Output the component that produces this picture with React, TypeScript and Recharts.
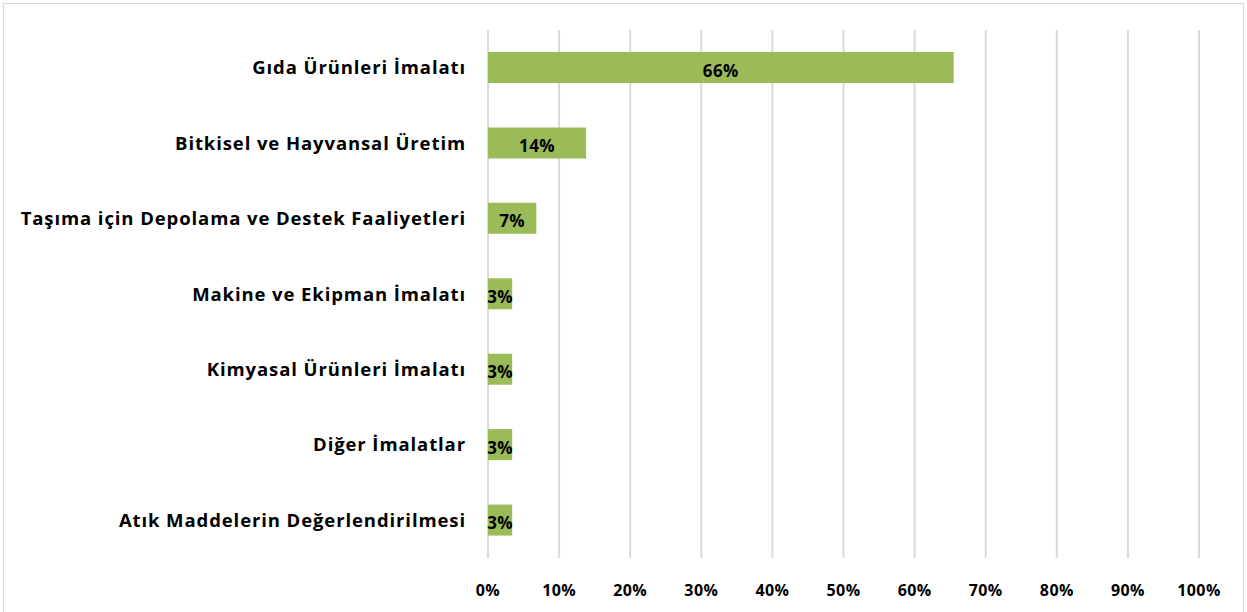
import { BarChart, Bar, XAxis, YAxis, CartesianGrid, LabelList } from "recharts";

const CATEGORIES = [
  "Gıda Ürünleri İmalatı",
  "Bitkisel ve Hayvansal Üretim",
  "Taşıma için Depolama ve Destek Faaliyetleri",
  "Makine ve Ekipman İmalatı",
  "Kimyasal Ürünleri İmalatı",
  "Diğer İmalatlar",
  "Atık Maddelerin Değerlendirilmesi",
];
const SHARES = [65.5, 13.8, 6.8, 3.4, 3.4, 3.4, 3.4];
const X_TICKS = [0, 10, 20, 30, 40, 50, 60, 70, 80, 90, 100];

const FONT = "'Open Sans', Lato, sans-serif";

const data = CATEGORIES.map((name, i) => ({ name, value: SHARES[i] }));

export default function App() {
  return (
    <div style={{ position: "fixed", left: 0, top: 0, width: 1247, height: 612, background: "#fff", overflow: "hidden", fontFamily: FONT }}>
      <div style={{ position: "absolute", left: 3, top: 3, width: 1239, height: 640, border: "1px solid #d9d9d9" }} />
      <div style={{ position: "absolute", left: 0, top: 0 }}>
        <BarChart
          width={1247}
          height={612}
          data={data}
          layout="vertical"
          margin={{ top: 30, right: 48, bottom: 0, left: 0 }}
        >
          <CartesianGrid horizontal={false} stroke="#d9d9d9" strokeWidth={2} />
          <XAxis
            type="number"
            domain={[0, 100]}
            ticks={X_TICKS}
            interval={0}
            axisLine={false}
            tickLine={false}
            tickSize={0}
            tickMargin={27}
            height={54}
            tickFormatter={(v) => `${v}%`}
            tick={{ fill: "#000", fontSize: 16, fontWeight: 700, fontFamily: FONT, letterSpacing: 0.4 }}
          />
          <YAxis
            type="category"
            dataKey="name"
            width={488}
            axisLine={false}
            tickLine={false}
            tickSize={0}
            tickMargin={22}
            interval={0}
            tick={{ fill: "#000", fontSize: 18.5, fontWeight: 700, fontFamily: FONT, letterSpacing: 0.9 }}
          />
          <Bar dataKey="value" fill="#9bbb59" barSize={31} isAnimationActive={false}>
            <LabelList
              dataKey="value"
              position="center"
              dy={3}
              formatter={(v: number) => `${Math.round(v)}%`}
              style={{ fill: "#000", fontSize: 17, fontWeight: 700, fontFamily: FONT, letterSpacing: 0.4 }}
            />
          </Bar>
        </BarChart>
      </div>
    </div>
  );
}
